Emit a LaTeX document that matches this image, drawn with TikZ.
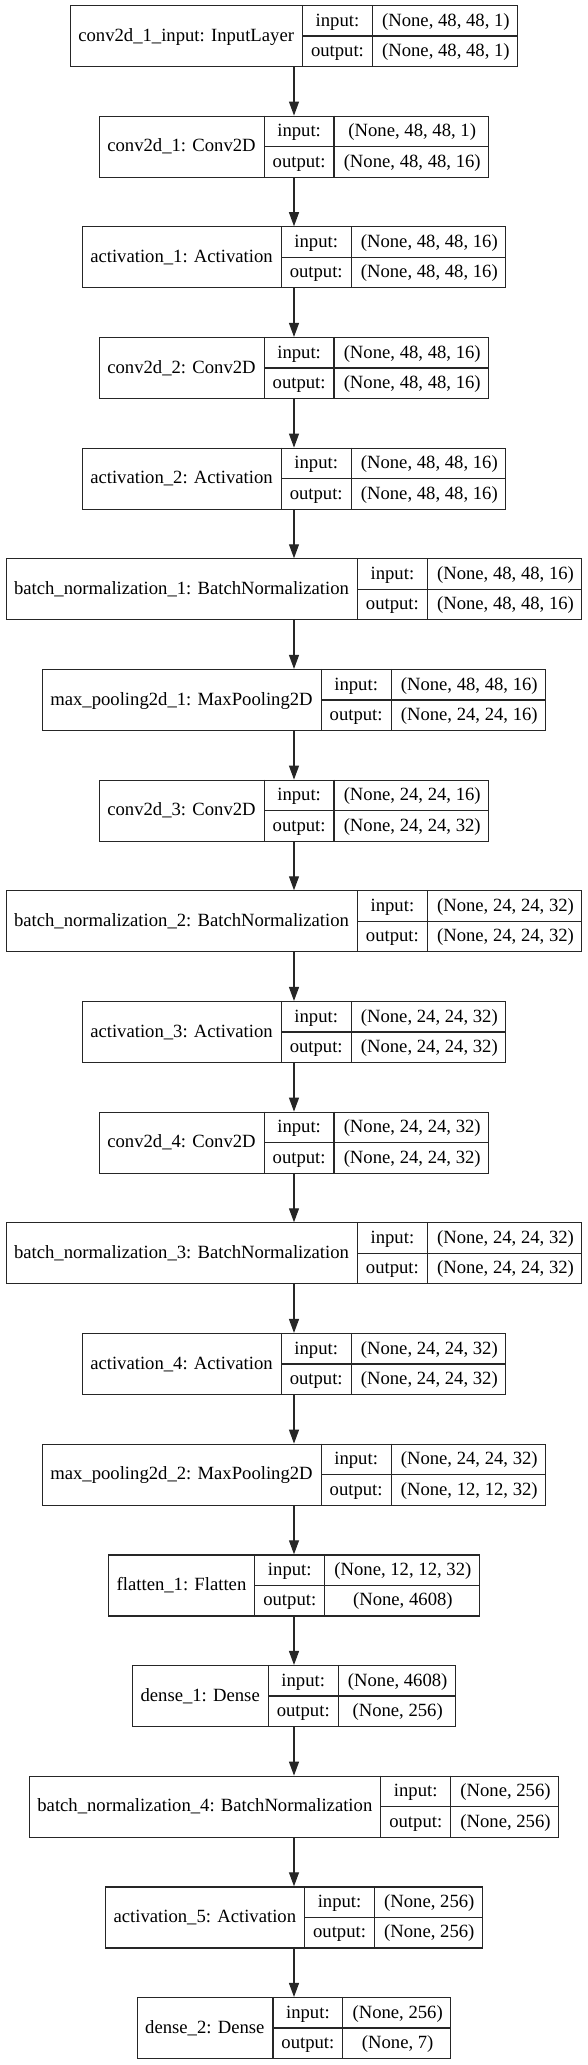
\documentclass[tikz,border=0pt]{standalone}
\usepackage{fontspec}
\setmainfont{Liberation Serif}
\usetikzlibrary{arrows.meta}
\newdimen\lwa \newdimen\lwb \newdimen\lwc \newdimen\lwd \newdimen\lwt
\newcommand\lf{\fontsize{18.67}{22}\selectfont}
\newcommand\measure[2]{\pgfinterruptpicture\setbox0\hbox{\lf #2}\global#1=\wd0\relax\endpgfinterruptpicture}
\tikzset{
 box/.style={draw=black!85, line width=1.2pt, minimum height=61pt, inner sep=0pt},
 sepline/.style={draw=black!85, line width=1.2pt},
 txt/.style={font=\lf, inner sep=0pt, text height=13.5pt, text depth=3pt},
 arr/.style={draw=black!85, line width=1.2pt, -{Triangle[length=14pt,width=10pt]}}
}
\newcommand\layer[5]{%
 \measure\lwa{#3}\advance\lwa by 17pt
 \measure\lwb{output:}\advance\lwb by 17pt
 \measure\lwc{#4}\measure\lwd{#5}%
 \ifdim\lwd>\lwc \lwc=\lwd\fi \advance\lwc by 17pt
 \lwt=\lwa \advance\lwt by \lwb \advance\lwt by \lwc
 \pgfmathsetmacro\yc{-(5.5+#2*110.67+30.5)}%
 \node[box, minimum width=\lwt] (#1) at (294,\yc) {};
 \draw[sepline] ([xshift=\lwa]#1.north west) -- ([xshift=\lwa]#1.south west);
 \draw[sepline] ([xshift=\lwa+\lwb]#1.north west) -- ([xshift=\lwa+\lwb]#1.south west);
 \draw[sepline] ([xshift=\lwa]#1.west) -- (#1.east);
 \node[txt] (#1n) at ([xshift=0.5*\lwa]#1.west) {#3};
 \node[txt] (#1i) at ([xshift=\lwa+0.5*\lwb, yshift=15.25pt]#1.west) {input:};
 \node[txt] (#1o) at ([xshift=\lwa+0.5*\lwb, yshift=-15.25pt]#1.west) {output:};
 \node[txt] (#1a) at ([xshift=-0.5*\lwc, yshift=15.25pt]#1.east) {#4};
 \node[txt] (#1b) at ([xshift=-0.5*\lwc, yshift=-15.25pt]#1.east) {#5};
}
\begin{document}
\begin{tikzpicture}[x=1pt,y=1pt]
\useasboundingbox (0,0) rectangle (588,-2065);
\layer{L1}{0}{conv2d\_1\_input: InputLayer}{(None, 48, 48, 1)}{(None, 48, 48, 1)}
\layer{L2}{1}{conv2d\_1: Conv2D}{(None, 48, 48, 1)}{(None, 48, 48, 16)}
\layer{L3}{2}{activation\_1: Activation}{(None, 48, 48, 16)}{(None, 48, 48, 16)}
\layer{L4}{3}{conv2d\_2: Conv2D}{(None, 48, 48, 16)}{(None, 48, 48, 16)}
\layer{L5}{4}{activation\_2: Activation}{(None, 48, 48, 16)}{(None, 48, 48, 16)}
\layer{L6}{5}{batch\_normalization\_1: BatchNormalization}{(None, 48, 48, 16)}{(None, 48, 48, 16)}
\layer{L7}{6}{max\_pooling2d\_1: MaxPooling2D}{(None, 48, 48, 16)}{(None, 24, 24, 16)}
\layer{L8}{7}{conv2d\_3: Conv2D}{(None, 24, 24, 16)}{(None, 24, 24, 32)}
\layer{L9}{8}{batch\_normalization\_2: BatchNormalization}{(None, 24, 24, 32)}{(None, 24, 24, 32)}
\layer{L10}{9}{activation\_3: Activation}{(None, 24, 24, 32)}{(None, 24, 24, 32)}
\layer{L11}{10}{conv2d\_4: Conv2D}{(None, 24, 24, 32)}{(None, 24, 24, 32)}
\layer{L12}{11}{batch\_normalization\_3: BatchNormalization}{(None, 24, 24, 32)}{(None, 24, 24, 32)}
\layer{L13}{12}{activation\_4: Activation}{(None, 24, 24, 32)}{(None, 24, 24, 32)}
\layer{L14}{13}{max\_pooling2d\_2: MaxPooling2D}{(None, 24, 24, 32)}{(None, 12, 12, 32)}
\layer{L15}{14}{flatten\_1: Flatten}{(None, 12, 12, 32)}{(None, 4608)}
\layer{L16}{15}{dense\_1: Dense}{(None, 4608)}{(None, 256)}
\layer{L17}{16}{batch\_normalization\_4: BatchNormalization}{(None, 256)}{(None, 256)}
\layer{L18}{17}{activation\_5: Activation}{(None, 256)}{(None, 256)}
\layer{L19}{18}{dense\_2: Dense}{(None, 256)}{(None, 7)}
\foreach \a/\b in {L1/L2,L2/L3,L3/L4,L4/L5,L5/L6,L6/L7,L7/L8,L8/L9,L9/L10,L10/L11,L11/L12,L12/L13,L13/L14,L14/L15,L15/L16,L16/L17,L17/L18,L18/L19}
  \draw[arr] (\a.south) -- (\b.north);
\end{tikzpicture}
\end{document}
